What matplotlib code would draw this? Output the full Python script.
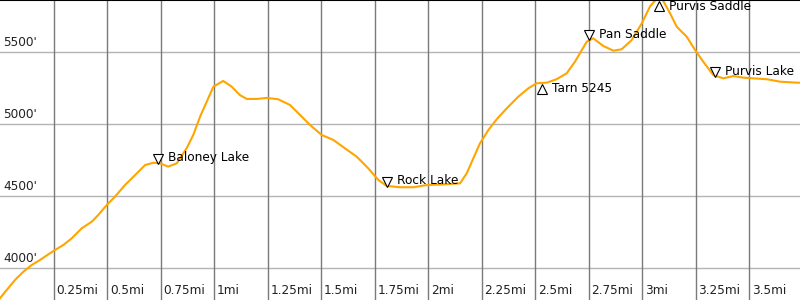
import numpy as np
import matplotlib.pyplot as plt
from matplotlib import transforms

# Elevation profile (miles, feet)
dist_mi = [0.0, 0.031, 0.070, 0.109, 0.148, 0.187, 0.226, 0.257, 0.296, 0.335,
           0.382, 0.429, 0.459, 0.499, 0.537, 0.584, 0.631, 0.678, 0.716, 0.748,
           0.786, 0.826, 0.872, 0.903, 0.935, 0.966, 0.997, 1.043, 1.083, 1.121,
           1.153, 1.200, 1.246, 1.300, 1.355, 1.402, 1.449, 1.503, 1.558, 1.612,
           1.667, 1.721, 1.768, 1.807, 1.869, 1.931, 1.994, 2.072, 2.150, 2.181,
           2.212, 2.243, 2.282, 2.321, 2.368, 2.422, 2.469, 2.508, 2.555, 2.601,
           2.648, 2.687, 2.710, 2.742, 2.772, 2.819, 2.866, 2.905, 2.952, 2.999,
           3.037, 3.084, 3.131, 3.162, 3.209, 3.248, 3.286, 3.333, 3.380, 3.427,
           3.473, 3.520, 3.583, 3.645, 3.723, 3.738]
elev_ft = [3792, 3849, 3919, 3976, 4023, 4058, 4097, 4127, 4162, 4208,
           4278, 4324, 4370, 4440, 4497, 4578, 4647, 4717, 4733, 4729,
           4706, 4729, 4833, 4926, 5053, 5157, 5261, 5301, 5261, 5203,
           5176, 5176, 5183, 5174, 5134, 5065, 4995, 4926, 4891, 4833,
           4775, 4694, 4613, 4572, 4563, 4563, 4578, 4583, 4590, 4660,
           4764, 4868, 4960, 5035, 5111, 5192, 5250, 5285, 5289, 5313,
           5354, 5435, 5493, 5574, 5597, 5544, 5511, 5521, 5585, 5701,
           5817, 5898, 5771, 5678, 5608, 5516, 5435, 5342, 5319, 5335,
           5324, 5319, 5313, 5296, 5289, 5289]

# Waypoints: name, mile, elevation, low point (True) or high point (False)
wp_names = ["Baloney Lake", "Rock Lake", "Tarn 5245", "Pan Saddle", "Purvis Saddle", "Purvis Lake"]
wp_mi = [0.736, 1.810, 2.531, 2.754, 3.078, 3.343]
wp_ft = [4727, 4567, 5280, 5585, 5856, 5326]
wp_low = [True, True, False, True, False, True]

x_ticks = [0.25, 0.5, 0.75, 1.0, 1.25, 1.5, 1.75, 2.0, 2.25, 2.5, 2.75, 3.0, 3.25, 3.5]
y_ticks = [4000, 4500, 5000, 5500]

fs = 8.7

fig = plt.figure(figsize=(8, 3), dpi=100)
ax = fig.add_axes([0, 0, 1, 1])
ax.set_xlim(0, 800 / 214)
ax.set_ylim(3780, 5863)
ax.set_xticks([])
ax.set_yticks([])
for side in ["left", "right", "bottom"]:
    ax.spines[side].set_visible(False)
ax.spines["top"].set_color("black")
ax.spines["top"].set_linewidth(1.5)
ax.spines["top"].set_zorder(5)

# Grid and labels
for v in y_ticks:
    ax.axhline(v, color="#b4b4b4", lw=1, zorder=1)
    ax.annotate(f"{v}'", (0, v), xytext=(3, 3), textcoords="offset pixels",
                fontsize=fs, ha="left", va="bottom", color="#222222")
for v in x_ticks:
    ax.axvline(v, color="#7a7a7a", lw=1, zorder=1)
    ax.annotate(f"{v:g}mi", (v, 3780), xytext=(3, 3), textcoords="offset pixels",
                fontsize=fs, ha="left", va="bottom", color="#222222")

ax.plot(dist_mi, elev_ft, color="orange", lw=1.5, zorder=3)

# Waypoint markers: triangle tip sits on the trail
up = transforms.offset_copy(ax.transData, fig=fig, y=5, units="dots")
down = transforms.offset_copy(ax.transData, fig=fig, y=-5, units="dots")
for name, m, f, low in zip(wp_names, wp_mi, wp_ft, wp_low):
    if low:
        ax.plot(m, f, marker="v", ms=7.6, mfc="white", mec="black", mew=0.8,
                transform=up, zorder=4, clip_on=False)
        ax.annotate(name, (m, f), xytext=(10, 6), textcoords="offset pixels",
                    fontsize=fs, ha="left", va="center", zorder=4)
    else:
        ax.plot(m, f, marker="^", ms=7.6, mfc="white", mec="black", mew=0.8,
                transform=down, zorder=4, clip_on=False)
        ax.annotate(name, (m, f), xytext=(10, -5), textcoords="offset pixels",
                    fontsize=fs, ha="left", va="center", zorder=4)

fig.savefig("out.png", dpi=100)
